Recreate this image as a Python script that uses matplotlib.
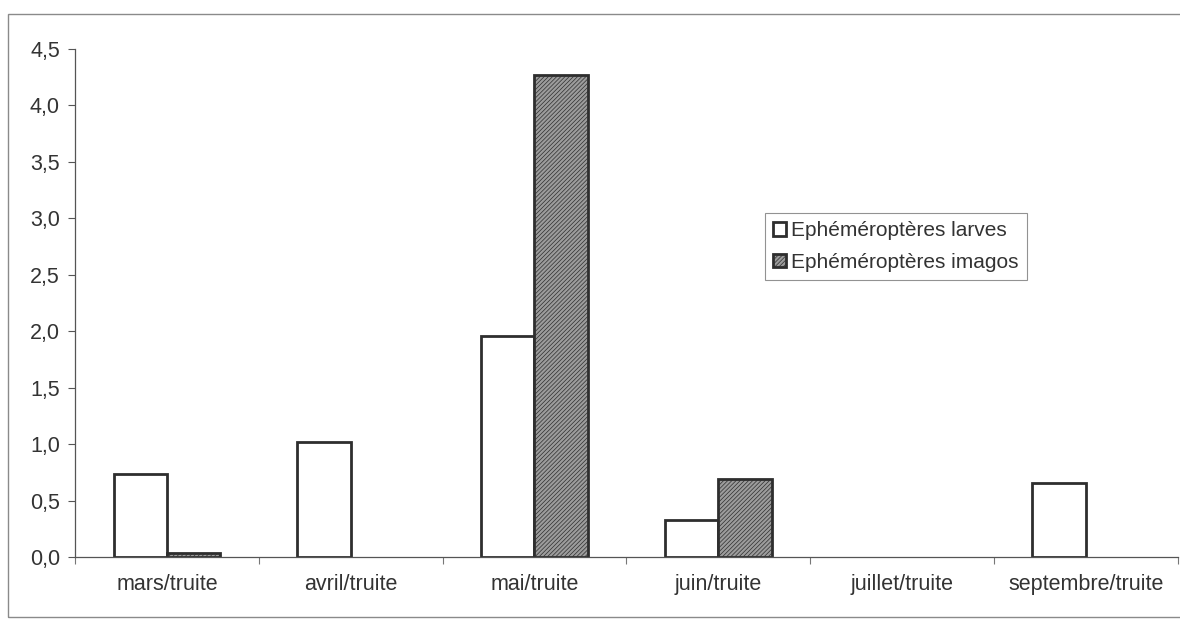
import matplotlib
matplotlib.use('Agg')
import matplotlib.pyplot as plt
from matplotlib.patches import Rectangle
from matplotlib.ticker import FuncFormatter, FixedLocator
import numpy as np

# Ephemeroptera found in trout stomachs, by month
mois = ['mars/truite', 'avril/truite', 'mai/truite', 'juin/truite',
        'juillet/truite', 'septembre/truite']
larves = [0.74, 1.02, 1.96, 0.33, 0.0, 0.655]
imagos = [0.04, 0.0, 4.27, 0.69, 0.0, 0.0]

plt.rcParams['font.family'] = ['Liberation Sans', 'DejaVu Sans']
plt.rcParams['hatch.color'] = '#666666'
plt.rcParams['hatch.linewidth'] = 0.5

fig = plt.figure(figsize=(11.8, 6.19), dpi=100)
ax = fig.add_axes([0.0636, 0.100, 0.9344, 0.821])

x = np.arange(len(mois))
w = 0.29
# zero values are left blank rather than drawn as flat bars
lv = np.array([v if v > 0 else np.nan for v in larves])
iv = np.array([v if v > 0 else np.nan for v in imagos])
ax.bar(x - w / 2, lv, w, color='white', edgecolor='#2e2e2e',
       linewidth=2, label='Ephéméroptères larves')
ax.bar(x + w / 2, iv, w, color='#9c9c9c', edgecolor='#2e2e2e',
       linewidth=2, hatch='////////', label='Ephéméroptères imagos')

ax.set_xlim(-0.5, len(mois) - 0.5)
ax.set_ylim(0, 4.5)
ax.set_yticks(np.arange(0, 4.51, 0.5))
ax.yaxis.set_major_formatter(FuncFormatter(lambda v, p: f'{v:.1f}'.replace('.', ',')))

ax.set_xticks(x)
ax.set_xticklabels(mois)
ax.xaxis.set_minor_locator(FixedLocator(np.arange(-0.5, len(mois), 1.0)))
ax.tick_params(axis='x', which='major', length=0, pad=12, labelsize=15.5, labelcolor='#333333')
ax.tick_params(axis='x', which='minor', length=5, width=0.8, color='#777777')
ax.tick_params(axis='y', length=5, width=0.8, color='#555555', labelsize=15.5,
               labelcolor='#333333', pad=6)

for s in ['top', 'right']:
    ax.spines[s].set_visible(False)
for s in ['left', 'bottom']:
    ax.spines[s].set_color('#555555')
    ax.spines[s].set_linewidth(0.9)

leg = ax.legend(loc='upper left', bbox_to_anchor=(765 / 1180, 1 - 213 / 619),
                bbox_transform=fig.transFigure, frameon=True, fancybox=False,
                fontsize=15, handlelength=0.6, handleheight=0.6,
                handletextpad=0.25, borderpad=0.4, labelspacing=0.6,
                borderaxespad=0)
leg.get_frame().set_edgecolor('#777777')
leg.get_frame().set_linewidth(0.8)
for t in leg.get_texts():
    t.set_color('#333333')

# thin frame around the whole chart area
fig.add_artist(Rectangle((8 / 1180, 0.003), 1.2, 1 - 14 / 619 - 0.003,
                         transform=fig.transFigure, fill=False,
                         edgecolor='#8a8a8a', linewidth=1.0))

fig.savefig('out.png', dpi=100, facecolor='white')
